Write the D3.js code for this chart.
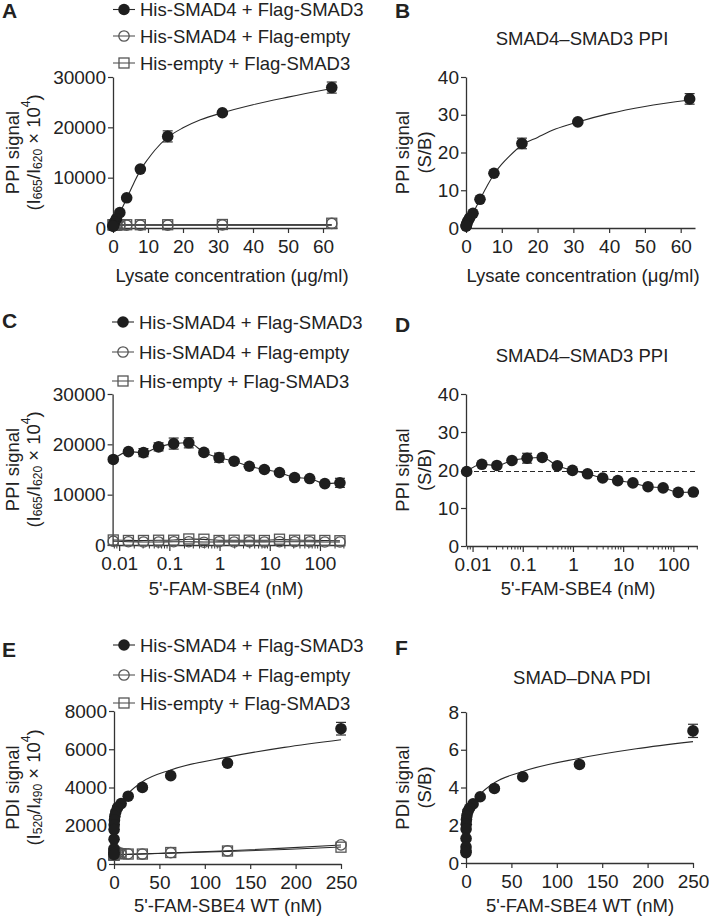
<!DOCTYPE html>
<html><head><meta charset="utf-8">
<script src="https://cdn.jsdelivr.net/npm/d3@7"></script>
<style>
body{margin:0;background:#fff}
svg{display:block}
text{font-family:"Liberation Sans",Arial,Helvetica,sans-serif;fill:#222}
</style>
</head><body>
<svg id="chart" width="709" height="918"></svg>
<script>
// ---------------- DATA ----------------
const seriesNames = ["His-SMAD4 + Flag-SMAD3", "His-SMAD4 + Flag-empty", "His-empty + Flag-SMAD3"];

// Panels A/B : lysate concentration (ug/ml)
const concLysate = [62.5, 31.25, 15.63, 7.81, 3.91, 1.95, 0.98, 0.49, 0.24, 0.12, 0.06, 0.03];
const aSmad3    = [27900, 22900, 18200, 11700, 6000, 3050, 1850, 1200, 750, 500, 400, 350];
const aSmad3Err = [1100, 300, 1100, 300, 300, 250, 200, 150, 100, 100, 100, 100];
const aEmptyFlag = [900, 600, 560, 560, 560, 560, 550, 550, 550, 550, 550, 550];
const aEmptyHis  = [950, 700, 650, 650, 650, 650, 640, 640, 640, 640, 640, 640];
const fitLysateX = [0, 1, 2, 4, 6, 8, 10, 12, 15.63, 20, 25, 31.25, 40, 50, 62.5];
const fitASmad3  = [0, 1500, 3070, 6000, 9000, 11700, 13700, 15500, 18000, 19900, 21500, 22900, 24500, 26000, 27700];
const fitALowX = [0, 62.5];
const fitAEmptyFlag = [560, 580];
const fitAEmptyHis  = [640, 660];
const bRatio    = [34.2, 28.1, 22.4, 14.5, 7.6, 3.9, 2.6, 1.8, 1.2, 0.85, 0.6, 0.5];
const bRatioErr = [1.4, 0.4, 1.4, 0.5, 0.5, 0.4, 0.3, 0.2, 0.2, 0.1, 0.1, 0.1];
const fitBRatio = [0, 2.0, 4.0, 7.7, 11.3, 14.5, 16.9, 18.9, 22.0, 24.0, 26.2, 28.1, 30.3, 32.2, 33.9];

// Panels C/D : 5'-FAM-SBE4 (nM), log scale
const concProbe = [0.00763, 0.0153, 0.0305, 0.061, 0.122, 0.244, 0.488, 0.977, 1.95, 3.91, 7.81, 15.63, 31.25, 62.5, 125, 250];
const cSmad3    = [17000, 18550, 18350, 19500, 20150, 20300, 18400, 17350, 16650, 15650, 15000, 14400, 13400, 13200, 12200, 12350];
const cSmad3Err = [300, 300, 800, 800, 1100, 1000, 300, 900, 300, 300, 300, 300, 500, 300, 300, 900];
const cEmptyFlag = [750, 650, 600, 600, 650, 650, 550, 650, 600, 650, 600, 650, 650, 650, 600, 600];
const cEmptyHis  = [1000, 900, 900, 950, 950, 1200, 1150, 900, 950, 950, 900, 1150, 950, 950, 900, 850];
const dRatio    = [19.6, 21.5, 21.2, 22.5, 23.1, 23.3, 21.1, 19.9, 19.0, 17.9, 17.2, 16.6, 15.6, 15.3, 14.1, 14.2];
const dRatioErr = [0.3, 0.3, 0.3, 0.3, 1.3, 0.4, 0.3, 0.3, 0.3, 0.3, 0.3, 0.3, 0.3, 0.3, 0.3, 0.3];
const dBaseline = 19.6;
const logMajorTicks = [0.01, 0.1, 1, 10, 100];
const logTickLabels = ["0.01", "0.1", "1", "10", "100"];

// Panels E/F : 5'-FAM-SBE4 WT (nM)
const concWT = [250, 125, 62.5, 31.25, 15.63, 7.81, 3.91, 1.95, 0.98, 0.49, 0.24, 0.12, 0.061, 0.031, 0.015, 0.0076];
const eSmad3    = [7075, 5275, 4620, 4005, 3545, 3160, 2950, 2720, 2500, 2300, 2050, 1800, 1300, 800, 600, 500];
const eSmad3Err = [330, 100, 100, 100, 100, 100, 100, 100, 100, 100, 100, 100, 100, 100, 100, 100];
const eEmptyFlag = [1000, 690, 590, 520, 530, 540, 560, 600, 650, 700, 600, 550, 500, 480, 470, 460];
const eEmptyHis  = [880, 680, 600, 520, 520, 540, 560, 580, 600, 620, 560, 520, 500, 480, 470, 460];
const fitWTX = [0, 0.25, 0.5, 1, 2, 4, 8, 15.63, 31.25, 62.5, 125, 187.5, 250];
const fitESmad3 = [450, 1300, 1800, 2250, 2600, 2950, 3250, 3690, 4300, 4920, 5590, 6100, 6500];
const fitELowX = [0, 31.25, 62.5, 125, 187.5, 250];
const fitEEmptyFlag = [480, 530, 580, 690, 830, 990];
const fitEEmptyHis  = [480, 520, 570, 660, 760, 890];
const fRatio    = [7.0, 5.22, 4.57, 3.95, 3.51, 3.13, 2.9, 2.72, 2.5, 2.3, 2.05, 1.8, 1.3, 0.85, 0.65, 0.55];
const fRatioErr = [0.35, 0.1, 0.1, 0.1, 0.1, 0.1, 0.1, 0.1, 0.1, 0.1, 0.1, 0.1, 0.1, 0.1, 0.1, 0.1];
const fitFRatio = [0.55, 1.3, 1.8, 2.2, 2.55, 2.9, 3.2, 3.65, 4.25, 4.85, 5.55, 6.05, 6.43];

// ---------------- DRAWING ----------------
const svg = d3.select("#chart");
const FS = 18.5, TFS = 19;
const DARK = "#1e1e1e", GREY = "#555", AX = "#333";

function toPts(xs, ys) { return xs.map((x, i) => ({x: x, y: ys[i]})); }

function drawAxes(g, x, y, opt) {
  const ya = d3.axisLeft(y).tickValues(opt.yTicks).tickSize(5).tickPadding(2).tickSizeOuter(0)
    .tickFormat(d3.format("d"));
  const gy = g.append("g").attr("transform", `translate(${x.range()[0]},0)`).call(ya);
  const x0 = y.range()[0];
  let xa;
  if (opt.log) {
    xa = d3.axisBottom(x).tickValues(logMajorTicks).tickSize(6).tickPadding(6).tickSizeOuter(0)
      .tickFormat((d, i) => logTickLabels[i]);
  } else {
    xa = d3.axisBottom(x).tickValues(opt.xTicks).tickSize(5).tickPadding(7).tickSizeOuter(0)
      .tickFormat(d3.format("d"));
  }
  const gx = g.append("g").attr("transform", `translate(0,${x0})`).call(xa);
  if (opt.log) {
    const [lo, hi] = x.domain();
    const minors = [];
    for (let e = -3; e <= 2; e++) for (let k = 2; k <= 9; k++) {
      const v = k * Math.pow(10, e);
      if (v >= lo && v <= hi) minors.push(v);
    }
    gx.selectAll(".minor").data(minors).join("line").attr("class", "minor")
      .attr("x1", d => x(d)).attr("x2", d => x(d)).attr("y1", 0).attr("y2", 3.5)
      .attr("stroke", AX).attr("stroke-width", 1);
  }
  [gx, gy].forEach(a => {
    a.select(".domain").attr("stroke", AX).attr("stroke-width", 1.3);
    a.selectAll(".tick line").attr("stroke", AX).attr("stroke-width", 1.2);
    a.selectAll(".tick text").attr("font-size", TFS).attr("font-family", '"Liberation Sans",Arial,sans-serif').attr("fill", "#222");
  });
}

function drawLine(g, x, y, pts, curve, dash) {
  g.append("path").datum(pts)
    .attr("d", d3.line().x(d => x(d.x)).y(d => y(d.y)).curve(curve || d3.curveMonotoneX))
    .attr("fill", "none").attr("stroke", "#2a2a2a").attr("stroke-width", 1.1)
    .attr("stroke-dasharray", dash || null);
}

function drawErr(g, x, y, xs, ys, es) {
  const d = xs.map((v, i) => ({x: v, y: ys[i], e: es[i]}));
  const eg = g.append("g").attr("stroke", "#333").attr("stroke-width", 1.2);
  eg.selectAll("line.v").data(d).join("line").attr("class", "v")
    .attr("x1", p => x(p.x)).attr("x2", p => x(p.x))
    .attr("y1", p => y(p.y - p.e)).attr("y2", p => y(p.y + p.e));
  ["-", "+"].forEach(s => {
    eg.selectAll("line.c" + (s === "-" ? "m" : "p")).data(d).join("line").attr("class", "c" + (s === "-" ? "m" : "p"))
      .attr("x1", p => x(p.x) - 5).attr("x2", p => x(p.x) + 5)
      .attr("y1", p => y(s === "-" ? p.y - p.e : p.y + p.e))
      .attr("y2", p => y(s === "-" ? p.y - p.e : p.y + p.e));
  });
}

function marker(g, type, cx, cy) {
  if (type === 0) {
    g.append("circle").attr("cx", cx).attr("cy", cy).attr("r", 5.8).attr("fill", DARK);
  } else if (type === 1) {
    g.append("circle").attr("cx", cx).attr("cy", cy).attr("r", 5.2)
      .attr("fill", "none").attr("stroke", GREY).attr("stroke-width", 1.3);
  } else {
    g.append("rect").attr("x", cx - 5).attr("y", cy - 5).attr("width", 10).attr("height", 10)
      .attr("fill", "none").attr("stroke", GREY).attr("stroke-width", 1.3);
  }
}

function drawPoints(g, x, y, xs, ys, type) {
  const mg = g.append("g");
  xs.forEach((v, i) => marker(mg, type, x(v), y(ys[i])));
}

function legend(g, x0, rows) {
  rows.forEach((ry, i) => {
    g.append("line").attr("x1", x0 - 11).attr("x2", x0 + 11).attr("y1", ry).attr("y2", ry)
      .attr("stroke", i === 0 ? "#2a2a2a" : GREY).attr("stroke-width", 1.1);
    marker(g, i, x0, ry);
    g.append("text").attr("x", x0 + 16).attr("y", ry + 6.6).attr("font-size", FS).text(seriesNames[i]);
  });
}

function letter(g, t, x, y) {
  g.append("text").attr("x", x).attr("y", y).attr("font-size", 21).attr("font-weight", "bold").attr("fill", "#111").text(t);
}

function title(g, t, cx, cy) {
  g.append("text").attr("x", cx).attr("y", cy + 6.6).attr("text-anchor", "middle").attr("font-size", FS).text(t);
}

function xTitle(g, t, cx, cy) {
  g.append("text").attr("x", cx).attr("y", cy + 6.6).attr("text-anchor", "middle").attr("font-size", FS).text(t);
}

function yTitle(g, line1, x1, x2, cy, sub) {
  g.append("text").attr("transform", `translate(${x1},${cy}) rotate(-90)`)
    .attr("text-anchor", "middle").attr("dominant-baseline", "central").attr("font-size", FS).text(line1);
  const t = g.append("text").attr("transform", `translate(${x2},${cy}) rotate(-90)`)
    .attr("text-anchor", "middle").attr("dominant-baseline", "central").attr("font-size", FS);
  if (sub) {
    t.append("tspan").text("(I");
    t.append("tspan").attr("font-size", 12).attr("dy", 5).text(sub[0]);
    t.append("tspan").attr("dy", -5).text("/I");
    t.append("tspan").attr("font-size", 12).attr("dy", 5).text(sub[1]);
    t.append("tspan").attr("dy", -5).text(" \u00d7 10");
    t.append("tspan").attr("font-size", 12).attr("dy", -7).text("4");
    t.append("tspan").attr("dy", 7).text(")");
  } else {
    t.text("(S/B)");
  }
}

// ---- Panel A ----
(function () {
  const g = svg.append("g");
  const x = d3.scaleLinear().domain([0, 64]).range([113, 337]);
  const y = d3.scaleLinear().domain([0, 30000]).range([228, 77]);
  drawAxes(g, x, y, {xTicks: [0, 10, 20, 30, 40, 50, 60], yTicks: [0, 10000, 20000, 30000]});
  drawLine(g, x, y, toPts(fitALowX, fitAEmptyFlag), d3.curveLinear);
  drawLine(g, x, y, toPts(fitALowX, fitAEmptyHis), d3.curveLinear);
  drawLine(g, x, y, toPts(fitLysateX, fitASmad3));
  drawPoints(g, x, y, concLysate, aEmptyFlag, 1);
  drawPoints(g, x, y, concLysate, aEmptyHis, 2);
  drawErr(g, x, y, concLysate, aSmad3, aSmad3Err);
  drawPoints(g, x, y, concLysate, aSmad3, 0);
  legend(g, 124, [9.5, 36, 63]);
  letter(g, "A", 2, 18);
  yTitle(g, "PPI signal", 12, 33, 152.5, ["665", "620"]);
  xTitle(g, "Lysate concentration (\u03bcg/ml)", 232, 275);
})();

// ---- Panel B ----
(function () {
  const g = svg.append("g");
  const x = d3.scaleLinear().domain([0, 64]).range([466, 695]);
  const y = d3.scaleLinear().domain([0, 40]).range([228, 77]);
  drawAxes(g, x, y, {xTicks: [0, 10, 20, 30, 40, 50, 60], yTicks: [0, 10, 20, 30, 40]});
  drawLine(g, x, y, toPts(fitLysateX, fitBRatio));
  drawErr(g, x, y, concLysate, bRatio, bRatioErr);
  drawPoints(g, x, y, concLysate, bRatio, 0);
  letter(g, "B", 395, 18);
  title(g, "SMAD4\u2013SMAD3 PPI", 582, 38);
  yTitle(g, "PPI signal", 402, 424, 152.5, null);
  xTitle(g, "Lysate concentration (\u03bcg/ml)", 583, 275);
})();

// ---- Panel C ----
(function () {
  const g = svg.append("g");
  const x = d3.scaleLog().domain([0.0074, 300]).range([112.6, 343.9]);
  const y = d3.scaleLinear().domain([0, 30000]).range([545, 394]);
  drawAxes(g, x, y, {log: true, yTicks: [0, 10000, 20000, 30000]});
  drawLine(g, x, y, toPts(concProbe, cEmptyFlag), d3.curveBasis);
  drawLine(g, x, y, toPts(concProbe, cEmptyHis), d3.curveBasis);
  drawLine(g, x, y, toPts(concProbe, cSmad3));
  drawPoints(g, x, y, concProbe, cEmptyFlag, 1);
  drawPoints(g, x, y, concProbe, cEmptyHis, 2);
  drawErr(g, x, y, concProbe, cSmad3, cSmad3Err);
  drawPoints(g, x, y, concProbe, cSmad3, 0);
  legend(g, 123, [322, 352, 381]);
  letter(g, "C", 2, 328);
  yTitle(g, "PPI signal", 12, 33, 469.5, ["665", "620"]);
  xTitle(g, "5'-FAM-SBE4 (nM)", 226, 588);
})();

// ---- Panel D ----
(function () {
  const g = svg.append("g");
  const x = d3.scaleLog().domain([0.0074, 300]).range([466, 697.3]);
  const y = d3.scaleLinear().domain([0, 40]).range([546, 394]);
  drawAxes(g, x, y, {log: true, yTicks: [0, 10, 20, 30, 40]});
  drawLine(g, x, y, toPts(x.domain(), [dBaseline, dBaseline]), d3.curveLinear, "5,3");
  drawLine(g, x, y, toPts(concProbe, dRatio));
  drawErr(g, x, y, concProbe, dRatio, dRatioErr);
  drawPoints(g, x, y, concProbe, dRatio, 0);
  letter(g, "D", 395, 332);
  title(g, "SMAD4\u2013SMAD3 PPI", 582, 355);
  yTitle(g, "PPI signal", 402, 424, 470, null);
  xTitle(g, "5'-FAM-SBE4 (nM)", 578, 588);
})();

// ---- Panel E ----
(function () {
  const g = svg.append("g");
  const x = d3.scaleLinear().domain([0, 250]).range([114, 341]);
  const y = d3.scaleLinear().domain([0, 8000]).range([864, 711]);
  drawAxes(g, x, y, {xTicks: [0, 50, 100, 150, 200, 250], yTicks: [0, 2000, 4000, 6000, 8000]});
  drawLine(g, x, y, toPts(fitELowX, fitEEmptyFlag));
  drawLine(g, x, y, toPts(fitELowX, fitEEmptyHis));
  drawLine(g, x, y, toPts(fitWTX, fitESmad3));
  drawPoints(g, x, y, concWT, eEmptyFlag, 1);
  drawPoints(g, x, y, concWT, eEmptyHis, 2);
  drawErr(g, x, y, concWT, eSmad3, eSmad3Err);
  drawPoints(g, x, y, concWT, eSmad3, 0);
  legend(g, 124, [645, 675, 703]);
  letter(g, "E", 2, 657);
  yTitle(g, "PDI signal", 12, 33, 787.5, ["520", "490"]);
  xTitle(g, "5'-FAM-SBE4 WT (nM)", 228, 905);
})();

// ---- Panel F ----
(function () {
  const g = svg.append("g");
  const x = d3.scaleLinear().domain([0, 250]).range([466, 693]);
  const y = d3.scaleLinear().domain([0, 8]).range([863, 712]);
  drawAxes(g, x, y, {xTicks: [0, 50, 100, 150, 200, 250], yTicks: [0, 2, 4, 6, 8]});
  drawLine(g, x, y, toPts(fitWTX, fitFRatio));
  drawErr(g, x, y, concWT, fRatio, fRatioErr);
  drawPoints(g, x, y, concWT, fRatio, 0);
  letter(g, "F", 395, 655);
  title(g, "SMAD\u2013DNA PDI", 582, 677);
  yTitle(g, "PDI signal", 402, 424, 787.5, null);
  xTitle(g, "5'-FAM-SBE4 WT (nM)", 580, 905);
})();
</script>
</body></html>
